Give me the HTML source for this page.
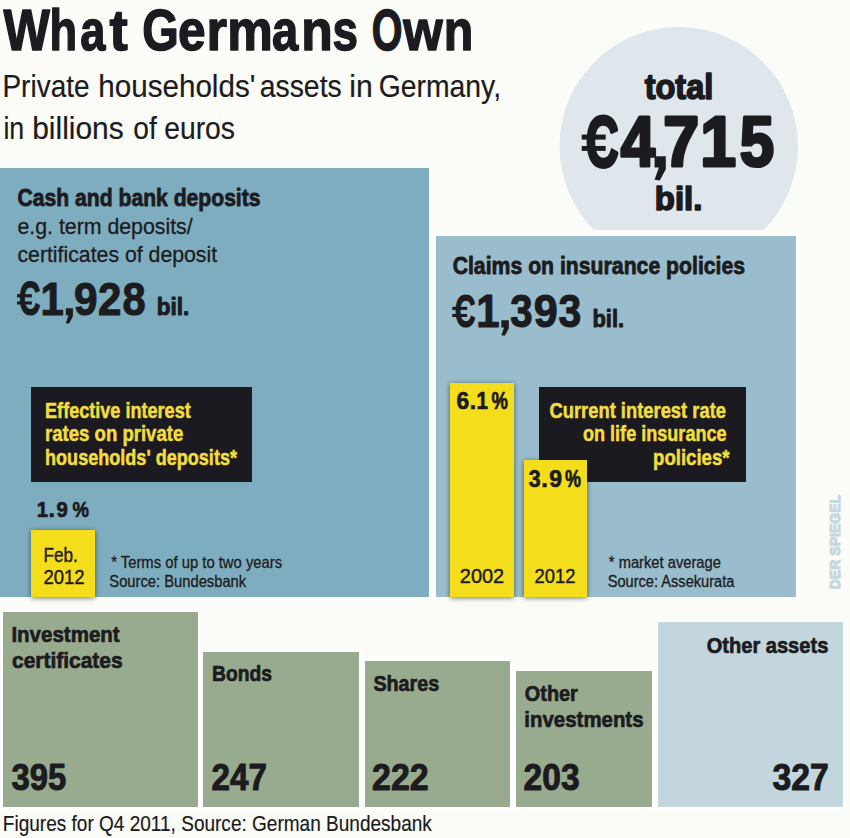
<!DOCTYPE html>
<html><head><meta charset="utf-8"><style>
html,body{margin:0;padding:0;background:#fbfcf7;}
svg{display:block;font-family:"Liberation Sans",sans-serif;}
</style></head><body>
<svg width="850" height="838" viewBox="0 0 850 838">
<defs><filter id="hb" x="-5%" y="-5%" width="110%" height="110%"><feGaussianBlur stdDeviation="1.5"/></filter><filter id="sh" x="-20%" y="-20%" width="140%" height="140%"><feGaussianBlur in="SourceAlpha" stdDeviation="2.6"/><feOffset dx="0" dy="0.5" result="b"/><feFlood flood-color="#0a1a10" flood-opacity="0.6"/><feComposite in2="b" operator="in"/><feMerge><feMergeNode/><feMergeNode in="SourceGraphic"/></feMerge></filter></defs>
<rect width="850" height="838" fill="#fbfcf7"/>
<clipPath id="cc"><rect x="0" y="0" width="850" height="230"/></clipPath>
<circle cx="678.7" cy="146.2" r="119.2" fill="#dfe7ec" clip-path="url(#cc)"/>
<g fill="#ffffff" filter="url(#hb)"><rect x="-3" y="165" width="435" height="435"/><rect x="433" y="233" width="366" height="367"/><rect x="0" y="609" width="201" height="201"/><rect x="200" y="649" width="162" height="161"/><rect x="362" y="658" width="151" height="152"/><rect x="513" y="668" width="142" height="142"/><rect x="655" y="619" width="191" height="191"/></g>
<rect x="0" y="168" width="429" height="429" fill="#7eadbf"/>
<rect x="436" y="236" width="360" height="361" fill="#99bdcc"/>
<rect x="31" y="387" width="221" height="95" fill="#1b1a20"/>
<rect x="539" y="387" width="207" height="95" fill="#1b1a20"/>
<rect x="31" y="530" width="64" height="67" fill="#f4de1b" filter="url(#sh)"/>
<rect x="450" y="383" width="64" height="214" fill="#f4de1b" filter="url(#sh)"/>
<rect x="524" y="460" width="63" height="137" fill="#f4de1b" filter="url(#sh)"/>
<rect x="3" y="612" width="195" height="195" fill="#98ab8e"/>
<rect x="203" y="652" width="156" height="155" fill="#98ab8e"/>
<rect x="365" y="661" width="145" height="146" fill="#98ab8e"/>
<rect x="516" y="671" width="136" height="136" fill="#98ab8e"/>
<rect x="658" y="622" width="185" height="185" fill="#c3d6de"/>
<text id="cash" x="17.61" y="205.90" font-size="24.00" font-weight="700" fill="#1c1b20" stroke="#1c1b20" stroke-width="0.8" stroke-linejoin="round" textLength="242.91" lengthAdjust="spacingAndGlyphs">Cash and bank deposits</text>
<text id="eg" x="17.44" y="234.25" font-size="22.93" font-weight="400" fill="#1c1b20" stroke="#1c1b20" stroke-width="0.3" stroke-linejoin="round" textLength="175.22" lengthAdjust="spacingAndGlyphs">e.g. term deposits/</text>
<text id="cert" x="17.44" y="261.95" font-size="22.93" font-weight="400" fill="#1c1b20" stroke="#1c1b20" stroke-width="0.3" stroke-linejoin="round" textLength="199.67" lengthAdjust="spacingAndGlyphs">certificates of deposit</text>
<text id="bil1" x="156.63" y="314.85" font-size="23.72" font-weight="700" fill="#1c1b20" stroke="#1c1b20" stroke-width="0.9" stroke-linejoin="round" textLength="32.54" lengthAdjust="spacingAndGlyphs">bil.</text>
<text id="claims" x="452.65" y="274.20" font-size="24.00" font-weight="700" fill="#1c1b20" stroke="#1c1b20" stroke-width="0.8" stroke-linejoin="round" textLength="292.48" lengthAdjust="spacingAndGlyphs">Claims on insurance policies</text>
<text id="bil2" x="592.40" y="327.25" font-size="23.59" font-weight="700" fill="#1c1b20" stroke="#1c1b20" stroke-width="0.9" stroke-linejoin="round" textLength="31.74" lengthAdjust="spacingAndGlyphs">bil.</text>
<text id="total" x="644.64" y="98.60" font-size="35.17" font-weight="700" fill="#1c1b20" stroke="#1c1b20" stroke-width="1.6" stroke-linejoin="round" textLength="68.70" lengthAdjust="spacingAndGlyphs">total</text>
<text id="bilc" x="654.86" y="209.80" font-size="32.41" font-weight="700" fill="#1c1b20" stroke="#1c1b20" stroke-width="1.6" stroke-linejoin="round" textLength="47.43" lengthAdjust="spacingAndGlyphs">bil.</text>
<text id="eff1" x="45.07" y="417.65" font-size="21.51" font-weight="700" fill="#f2de3e" stroke="#f2de3e" stroke-width="0.5" stroke-linejoin="round" textLength="145.68" lengthAdjust="spacingAndGlyphs">Effective interest</text>
<text id="eff2" x="45.06" y="441.15" font-size="21.51" font-weight="700" fill="#f2de3e" stroke="#f2de3e" stroke-width="0.5" stroke-linejoin="round" textLength="138.22" lengthAdjust="spacingAndGlyphs">rates on private</text>
<text id="eff3" x="45.07" y="464.95" font-size="21.51" font-weight="700" fill="#f2de3e" stroke="#f2de3e" stroke-width="0.5" stroke-linejoin="round" textLength="191.92" lengthAdjust="spacingAndGlyphs">households' deposits*</text>
<text id="cur1" x="549.47" y="417.65" font-size="21.51" font-weight="700" fill="#f2de3e" stroke="#f2de3e" stroke-width="0.5" stroke-linejoin="round" textLength="176.49" lengthAdjust="spacingAndGlyphs">Current interest rate</text>
<text id="cur2" x="582.97" y="441.05" font-size="21.51" font-weight="700" fill="#f2de3e" stroke="#f2de3e" stroke-width="0.5" stroke-linejoin="round" textLength="143.64" lengthAdjust="spacingAndGlyphs">on life insurance</text>
<text id="cur3" x="653.08" y="464.85" font-size="21.51" font-weight="700" fill="#f2de3e" stroke="#f2de3e" stroke-width="0.5" stroke-linejoin="round" textLength="76.42" lengthAdjust="spacingAndGlyphs">policies*</text>
<text id="feb" x="43.59" y="561.50" font-size="20.49" font-weight="400" fill="#1c1b20" stroke="#1c1b20" stroke-width="0.4" stroke-linejoin="round" textLength="34.25" lengthAdjust="spacingAndGlyphs">Feb.</text>
<text id="y12a" x="43.40" y="583.70" font-size="20.49" font-weight="400" fill="#1c1b20" stroke="#1c1b20" stroke-width="0.4" stroke-linejoin="round" textLength="41.21" lengthAdjust="spacingAndGlyphs">2012</text>
<text id="terms" x="111.17" y="568.05" font-size="16.57" font-weight="400" fill="#1c1b20" stroke="#1c1b20" stroke-width="0.3" stroke-linejoin="round" textLength="170.98" lengthAdjust="spacingAndGlyphs">* Terms of up to two years</text>
<text id="srcb" x="109.35" y="587.45" font-size="16.28" font-weight="400" fill="#1c1b20" stroke="#1c1b20" stroke-width="0.3" stroke-linejoin="round" textLength="136.81" lengthAdjust="spacingAndGlyphs">Source: Bundesbank</text>
<text id="y02" x="459.81" y="583.40" font-size="19.91" font-weight="400" fill="#1c1b20" stroke="#1c1b20" stroke-width="0.4" stroke-linejoin="round" textLength="44.41" lengthAdjust="spacingAndGlyphs">2002</text>
<text id="y12b" x="534.42" y="583.40" font-size="19.91" font-weight="400" fill="#1c1b20" stroke="#1c1b20" stroke-width="0.4" stroke-linejoin="round" textLength="40.99" lengthAdjust="spacingAndGlyphs">2012</text>
<text id="mkt" x="608.86" y="567.95" font-size="15.59" font-weight="400" fill="#1c1b20" stroke="#1c1b20" stroke-width="0.3" stroke-linejoin="round" textLength="111.99" lengthAdjust="spacingAndGlyphs">* market average</text>
<text id="srca" x="607.65" y="587.45" font-size="16.05" font-weight="400" fill="#1c1b20" stroke="#1c1b20" stroke-width="0.3" stroke-linejoin="round" textLength="126.75" lengthAdjust="spacingAndGlyphs">Source: Assekurata</text>
<text id="inv" x="11.40" y="642.15" font-size="22.67" font-weight="700" fill="#1c1b20" stroke="#1c1b20" stroke-width="0.7" stroke-linejoin="round" textLength="108.24" lengthAdjust="spacingAndGlyphs">Investment</text>
<text id="cer" x="12.02" y="668.25" font-size="22.67" font-weight="700" fill="#1c1b20" stroke="#1c1b20" stroke-width="0.7" stroke-linejoin="round" textLength="110.52" lengthAdjust="spacingAndGlyphs">certificates</text>
<text id="bonds" x="211.98" y="681.15" font-size="22.67" font-weight="700" fill="#1c1b20" stroke="#1c1b20" stroke-width="0.7" stroke-linejoin="round" textLength="59.93" lengthAdjust="spacingAndGlyphs">Bonds</text>
<text id="shares" x="373.38" y="690.85" font-size="22.67" font-weight="700" fill="#1c1b20" stroke="#1c1b20" stroke-width="0.7" stroke-linejoin="round" textLength="65.72" lengthAdjust="spacingAndGlyphs">Shares</text>
<text id="oth1" x="524.87" y="700.65" font-size="22.67" font-weight="700" fill="#1c1b20" stroke="#1c1b20" stroke-width="0.7" stroke-linejoin="round" textLength="52.94" lengthAdjust="spacingAndGlyphs">Other</text>
<text id="oth2" x="524.37" y="727.35" font-size="22.67" font-weight="700" fill="#1c1b20" stroke="#1c1b20" stroke-width="0.7" stroke-linejoin="round" textLength="119.18" lengthAdjust="spacingAndGlyphs">investments</text>
<text id="otha" x="706.69" y="653.05" font-size="22.67" font-weight="700" fill="#1c1b20" stroke="#1c1b20" stroke-width="0.7" stroke-linejoin="round" textLength="121.61" lengthAdjust="spacingAndGlyphs">Other assets</text>
<text id="n395" x="11.57" y="789.60" font-size="36.19" font-weight="700" fill="#1c1b20" stroke="#1c1b20" stroke-width="1.0" stroke-linejoin="round" textLength="54.68" lengthAdjust="spacingAndGlyphs">395</text>
<text id="n247" x="211.53" y="789.60" font-size="36.19" font-weight="700" fill="#1c1b20" stroke="#1c1b20" stroke-width="1.0" stroke-linejoin="round" textLength="55.46" lengthAdjust="spacingAndGlyphs">247</text>
<text id="n222" x="372.10" y="789.60" font-size="36.19" font-weight="700" fill="#1c1b20" stroke="#1c1b20" stroke-width="1.0" stroke-linejoin="round" textLength="56.62" lengthAdjust="spacingAndGlyphs">222</text>
<text id="n203" x="523.62" y="789.60" font-size="36.19" font-weight="700" fill="#1c1b20" stroke="#1c1b20" stroke-width="1.0" stroke-linejoin="round" textLength="55.93" lengthAdjust="spacingAndGlyphs">203</text>
<text id="n327" x="772.42" y="789.60" font-size="36.19" font-weight="700" fill="#1c1b20" stroke="#1c1b20" stroke-width="1.0" stroke-linejoin="round" textLength="56.21" lengthAdjust="spacingAndGlyphs">327</text>
<text id="fig" x="2.85" y="831.20" font-size="22.09" font-weight="400" fill="#1c1b20" stroke="#1c1b20" stroke-width="0.2" stroke-linejoin="round" textLength="428.98" lengthAdjust="spacingAndGlyphs">Figures for Q4 2011, Source: German Bundesbank</text>
<text id="a0" x="585.76" y="166.92" font-size="72.23" font-weight="700" fill="#1c1b20" stroke="#1c1b20" stroke-width="3.2" stroke-linejoin="round" textLength="33.00" lengthAdjust="spacingAndGlyphs">C</text>
<rect x="581.70" y="134.57" width="23.98" height="5.05" fill="#1c1b20"/>
<rect x="581.70" y="145.98" width="23.98" height="4.89" fill="#1c1b20"/>
<text id="a1" x="620.75" y="166.10" font-size="70.93" font-weight="700" fill="#1c1b20" stroke="#1c1b20" stroke-width="3.2" stroke-linejoin="round" textLength="34.25" lengthAdjust="spacingAndGlyphs">4</text>
<text id="a2" x="663.19" y="166.10" font-size="70.93" font-weight="700" fill="#1c1b20" stroke="#1c1b20" stroke-width="3.2" stroke-linejoin="round" textLength="35.95" lengthAdjust="spacingAndGlyphs">7</text>
<text id="a3" x="700.20" y="166.10" font-size="70.93" font-weight="700" fill="#1c1b20" stroke="#1c1b20" stroke-width="3.2" stroke-linejoin="round" textLength="35.86" lengthAdjust="spacingAndGlyphs">1</text>
<text id="a4" x="739.70" y="166.10" font-size="70.93" font-weight="700" fill="#1c1b20" stroke="#1c1b20" stroke-width="3.2" stroke-linejoin="round" textLength="34.38" lengthAdjust="spacingAndGlyphs">5</text>
<polygon fill="#1c1b20" points="654.60,156.20 665.80,156.20 665.80,169.13 659.75,180.60 654.60,179.87 658.86,167.42 654.60,167.42"/>
<text id="b0" x="18.93" y="315.47" font-size="47.42" font-weight="700" fill="#1c1b20" stroke="#1c1b20" stroke-width="1.1" stroke-linejoin="round" textLength="21.43" lengthAdjust="spacingAndGlyphs">C</text>
<rect x="17.00" y="294.19" width="14.88" height="3.20" fill="#1c1b20"/>
<rect x="17.00" y="301.41" width="14.88" height="3.10" fill="#1c1b20"/>
<text id="b1" x="40.54" y="314.65" font-size="46.08" font-weight="700" fill="#1c1b20" stroke="#1c1b20" stroke-width="1.1" stroke-linejoin="round" textLength="23.31" lengthAdjust="spacingAndGlyphs">1</text>
<text id="b2" x="74.07" y="314.65" font-size="46.08" font-weight="700" fill="#1c1b20" stroke="#1c1b20" stroke-width="1.1" stroke-linejoin="round" textLength="23.57" lengthAdjust="spacingAndGlyphs">9</text>
<text id="b3" x="98.08" y="314.65" font-size="46.08" font-weight="700" fill="#1c1b20" stroke="#1c1b20" stroke-width="1.1" stroke-linejoin="round" textLength="23.38" lengthAdjust="spacingAndGlyphs">2</text>
<text id="b4" x="122.44" y="314.65" font-size="46.08" font-weight="700" fill="#1c1b20" stroke="#1c1b20" stroke-width="1.1" stroke-linejoin="round" textLength="23.14" lengthAdjust="spacingAndGlyphs">8</text>
<polygon fill="#1c1b20" points="65.90,308.20 72.90,308.20 72.90,316.36 69.12,323.60 65.90,323.14 68.56,315.28 65.90,315.28"/>
<text id="c0" x="454.64" y="327.46" font-size="46.78" font-weight="700" fill="#1c1b20" stroke="#1c1b20" stroke-width="1.1" stroke-linejoin="round" textLength="20.90" lengthAdjust="spacingAndGlyphs">C</text>
<rect x="452.20" y="306.81" width="14.96" height="3.15" fill="#1c1b20"/>
<rect x="452.20" y="313.93" width="14.96" height="3.05" fill="#1c1b20"/>
<text id="c1" x="476.24" y="327.15" font-size="46.51" font-weight="700" fill="#1c1b20" stroke="#1c1b20" stroke-width="1.1" stroke-linejoin="round" textLength="23.35" lengthAdjust="spacingAndGlyphs">1</text>
<text id="c2" x="510.14" y="327.15" font-size="46.51" font-weight="700" fill="#1c1b20" stroke="#1c1b20" stroke-width="1.1" stroke-linejoin="round" textLength="22.36" lengthAdjust="spacingAndGlyphs">3</text>
<text id="c3" x="533.87" y="327.15" font-size="46.51" font-weight="700" fill="#1c1b20" stroke="#1c1b20" stroke-width="1.1" stroke-linejoin="round" textLength="23.97" lengthAdjust="spacingAndGlyphs">9</text>
<text id="c4" x="558.51" y="327.15" font-size="46.51" font-weight="700" fill="#1c1b20" stroke="#1c1b20" stroke-width="1.1" stroke-linejoin="round" textLength="22.79" lengthAdjust="spacingAndGlyphs">3</text>
<polygon fill="#1c1b20" points="501.30,320.20 508.80,320.20 508.80,328.47 504.75,335.80 501.30,335.33 504.15,327.38 501.30,327.38"/>
<text id="s10" x="2.45" y="97.20" font-size="32.27" font-weight="400" fill="#1c1b20" stroke="#1c1b20" stroke-width="0.2" stroke-linejoin="round" textLength="87.09" lengthAdjust="spacingAndGlyphs">Private</text>
<text id="s11" x="98.27" y="97.20" font-size="32.27" font-weight="400" fill="#1c1b20" stroke="#1c1b20" stroke-width="0.2" stroke-linejoin="round" textLength="157.09" lengthAdjust="spacingAndGlyphs">households'</text>
<text id="s12" x="259.72" y="97.20" font-size="32.27" font-weight="400" fill="#1c1b20" stroke="#1c1b20" stroke-width="0.2" stroke-linejoin="round" textLength="81.99" lengthAdjust="spacingAndGlyphs">assets</text>
<text id="s13" x="349.20" y="97.20" font-size="32.27" font-weight="400" fill="#1c1b20" stroke="#1c1b20" stroke-width="0.2" stroke-linejoin="round" textLength="23.49" lengthAdjust="spacingAndGlyphs">in</text>
<text id="s14" x="378.78" y="97.20" font-size="32.27" font-weight="400" fill="#1c1b20" stroke="#1c1b20" stroke-width="0.2" stroke-linejoin="round" textLength="122.30" lengthAdjust="spacingAndGlyphs">Germany,</text>
<text id="s20" x="3.42" y="138.70" font-size="32.27" font-weight="400" fill="#1c1b20" stroke="#1c1b20" stroke-width="0.2" stroke-linejoin="round" textLength="20.85" lengthAdjust="spacingAndGlyphs">in</text>
<text id="s21" x="32.22" y="138.70" font-size="32.27" font-weight="400" fill="#1c1b20" stroke="#1c1b20" stroke-width="0.2" stroke-linejoin="round" textLength="91.48" lengthAdjust="spacingAndGlyphs">billions</text>
<text id="s22" x="133.22" y="138.70" font-size="32.27" font-weight="400" fill="#1c1b20" stroke="#1c1b20" stroke-width="0.2" stroke-linejoin="round" textLength="23.50" lengthAdjust="spacingAndGlyphs">of</text>
<text id="s23" x="164.15" y="138.70" font-size="32.27" font-weight="400" fill="#1c1b20" stroke="#1c1b20" stroke-width="0.2" stroke-linejoin="round" textLength="70.85" lengthAdjust="spacingAndGlyphs">euros</text>
<text id="tg0" x="3.56" y="49.75" font-size="57.85" font-weight="700" fill="#1c1b20" stroke="#1c1b20" stroke-width="1.5" stroke-linejoin="round" textLength="46.40" lengthAdjust="spacingAndGlyphs">W</text>
<text id="tg1" x="49.54" y="49.75" font-size="57.85" font-weight="700" fill="#1c1b20" stroke="#1c1b20" stroke-width="1.5" stroke-linejoin="round" textLength="27.62" lengthAdjust="spacingAndGlyphs">h</text>
<text id="tg2" x="80.37" y="49.75" font-size="57.85" font-weight="700" fill="#1c1b20" stroke="#1c1b20" stroke-width="1.5" stroke-linejoin="round" textLength="25.09" lengthAdjust="spacingAndGlyphs">a</text>
<text id="tg3" x="109.45" y="49.75" font-size="57.85" font-weight="700" fill="#1c1b20" stroke="#1c1b20" stroke-width="1.5" stroke-linejoin="round" textLength="18.23" lengthAdjust="spacingAndGlyphs">t</text>
<text id="tg4" x="142.17" y="49.75" font-size="57.85" font-weight="700" fill="#1c1b20" stroke="#1c1b20" stroke-width="1.5" stroke-linejoin="round" textLength="36.51" lengthAdjust="spacingAndGlyphs">G</text>
<text id="tg5" x="177.99" y="49.75" font-size="57.85" font-weight="700" fill="#1c1b20" stroke="#1c1b20" stroke-width="1.5" stroke-linejoin="round" textLength="27.60" lengthAdjust="spacingAndGlyphs">e</text>
<text id="tg6" x="206.39" y="49.75" font-size="57.85" font-weight="700" fill="#1c1b20" stroke="#1c1b20" stroke-width="1.5" stroke-linejoin="round" textLength="20.46" lengthAdjust="spacingAndGlyphs">r</text>
<text id="tg7" x="227.30" y="49.75" font-size="57.85" font-weight="700" fill="#1c1b20" stroke="#1c1b20" stroke-width="1.5" stroke-linejoin="round" textLength="45.49" lengthAdjust="spacingAndGlyphs">m</text>
<text id="tg8" x="272.12" y="49.75" font-size="57.85" font-weight="700" fill="#1c1b20" stroke="#1c1b20" stroke-width="1.5" stroke-linejoin="round" textLength="26.23" lengthAdjust="spacingAndGlyphs">a</text>
<text id="tg9" x="301.34" y="49.75" font-size="57.85" font-weight="700" fill="#1c1b20" stroke="#1c1b20" stroke-width="1.5" stroke-linejoin="round" textLength="31.49" lengthAdjust="spacingAndGlyphs">n</text>
<text id="tg10" x="332.55" y="49.75" font-size="57.85" font-weight="700" fill="#1c1b20" stroke="#1c1b20" stroke-width="1.5" stroke-linejoin="round" textLength="25.45" lengthAdjust="spacingAndGlyphs">s</text>
<text id="tg11" x="371.78" y="49.75" font-size="57.85" font-weight="700" fill="#1c1b20" stroke="#1c1b20" stroke-width="1.5" stroke-linejoin="round" textLength="30.72" lengthAdjust="spacingAndGlyphs">O</text>
<text id="tg12" x="403.20" y="49.75" font-size="57.85" font-weight="700" fill="#1c1b20" stroke="#1c1b20" stroke-width="1.5" stroke-linejoin="round" textLength="39.43" lengthAdjust="spacingAndGlyphs">w</text>
<text id="tg13" x="443.63" y="49.75" font-size="57.85" font-weight="700" fill="#1c1b20" stroke="#1c1b20" stroke-width="1.5" stroke-linejoin="round" textLength="29.56" lengthAdjust="spacingAndGlyphs">n</text>
<text id="q190" x="36.76" y="517.45" font-size="22.67" font-weight="700" fill="#1c1b20" stroke="#1c1b20" stroke-width="0.7" stroke-linejoin="round" textLength="11.27" lengthAdjust="spacingAndGlyphs">1</text>
<text id="q191" x="48.53" y="517.45" font-size="22.67" font-weight="700" fill="#1c1b20" stroke="#1c1b20" stroke-width="0.7" stroke-linejoin="round" textLength="6.44" lengthAdjust="spacingAndGlyphs">.</text>
<text id="q192" x="56.61" y="517.45" font-size="22.67" font-weight="700" fill="#1c1b20" stroke="#1c1b20" stroke-width="0.7" stroke-linejoin="round" textLength="11.30" lengthAdjust="spacingAndGlyphs">9</text>
<text id="q193" x="72.39" y="517.45" font-size="22.67" font-weight="700" fill="#1c1b20" stroke="#1c1b20" stroke-width="0.7" stroke-linejoin="round" textLength="16.44" lengthAdjust="spacingAndGlyphs">%</text>
<text id="q610" x="456.39" y="409.45" font-size="23.98" font-weight="700" fill="#1c1b20" stroke="#1c1b20" stroke-width="0.7" stroke-linejoin="round" textLength="12.63" lengthAdjust="spacingAndGlyphs">6</text>
<text id="q611" x="469.68" y="409.45" font-size="23.98" font-weight="700" fill="#1c1b20" stroke="#1c1b20" stroke-width="0.7" stroke-linejoin="round" textLength="6.38" lengthAdjust="spacingAndGlyphs">.</text>
<text id="q612" x="476.44" y="409.45" font-size="23.98" font-weight="700" fill="#1c1b20" stroke="#1c1b20" stroke-width="0.7" stroke-linejoin="round" textLength="11.47" lengthAdjust="spacingAndGlyphs">1</text>
<text id="q613" x="491.42" y="409.45" font-size="23.98" font-weight="700" fill="#1c1b20" stroke="#1c1b20" stroke-width="0.7" stroke-linejoin="round" textLength="16.35" lengthAdjust="spacingAndGlyphs">%</text>
<text id="q390" x="528.81" y="486.65" font-size="23.98" font-weight="700" fill="#1c1b20" stroke="#1c1b20" stroke-width="0.7" stroke-linejoin="round" textLength="11.83" lengthAdjust="spacingAndGlyphs">3</text>
<text id="q391" x="541.31" y="486.65" font-size="23.98" font-weight="700" fill="#1c1b20" stroke="#1c1b20" stroke-width="0.7" stroke-linejoin="round" textLength="6.67" lengthAdjust="spacingAndGlyphs">.</text>
<text id="q392" x="549.15" y="486.65" font-size="23.98" font-weight="700" fill="#1c1b20" stroke="#1c1b20" stroke-width="0.7" stroke-linejoin="round" textLength="12.77" lengthAdjust="spacingAndGlyphs">9</text>
<text id="q393" x="564.97" y="486.65" font-size="23.98" font-weight="700" fill="#1c1b20" stroke="#1c1b20" stroke-width="0.7" stroke-linejoin="round" textLength="15.92" lengthAdjust="spacingAndGlyphs">%</text>
<g transform="translate(840.8,590.4) rotate(-90)"><text x="1.14" y="-0.60" font-size="15.55" font-weight="700" fill="#c8d8de" stroke="#c8d8de" stroke-width="1.2" stroke-linejoin="round" textLength="94.41" lengthAdjust="spacingAndGlyphs">DER SPIEGEL</text></g>
</svg>
</body></html>
